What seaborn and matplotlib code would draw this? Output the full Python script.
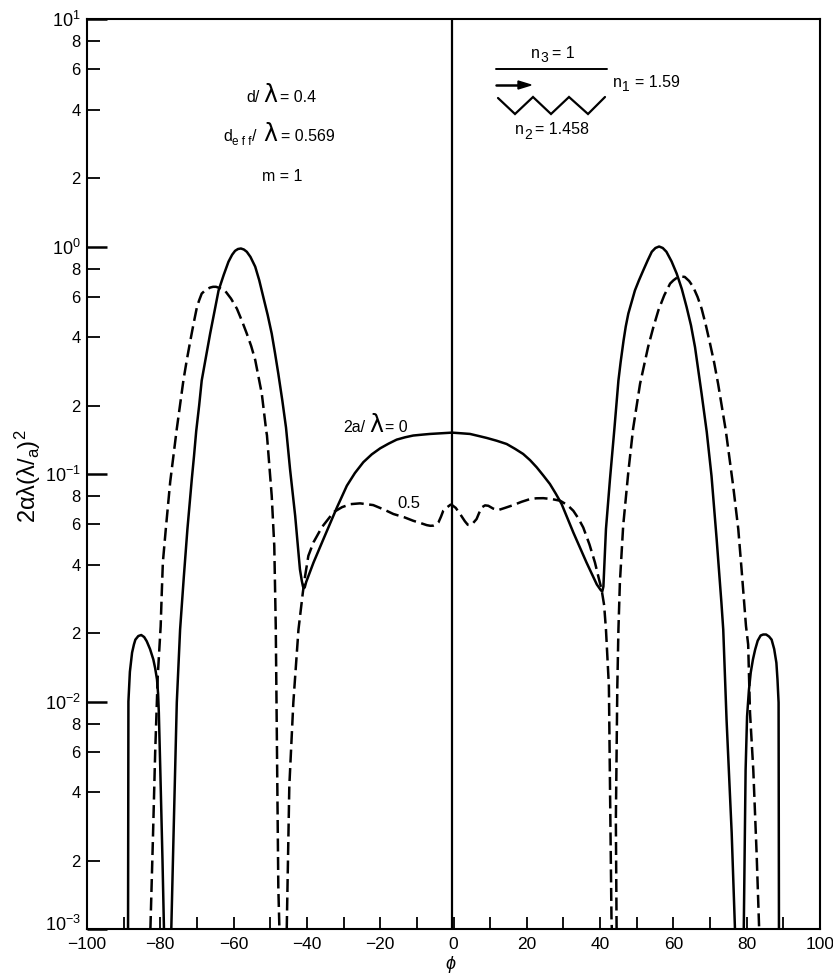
import matplotlib
matplotlib.use("Agg")
import matplotlib.pyplot as plt
from matplotlib.lines import Line2D
from matplotlib.transforms import ScaledTranslation
import seaborn as sns

# ---- data ----
# the drawn centre line of the scan sits slightly left of the axis zero
centre_line_phi = -0.4

solid_left_lobe_x = [-88.4, -88.35, -88.3, -87.9, -87.3, -86.8, -86.4, -85.6, -84.8, -84.0, -83.3, -82.4, -81.5, -81.0,
                     -80.5, -80.2, -80.0, -79.6, -79.0, -78.6]
solid_left_lobe_y = [0.001, 0.003, 0.01, 0.0135, 0.0164, 0.0178, 0.0187, 0.0194, 0.0196, 0.0192, 0.0184, 0.017, 0.0153, 0.014,
                     0.0125, 0.0108, 0.00895, 0.005, 0.002, 0.001]

solid_main_x = [-76.6, -76.0, -75.1, -74.2, -73.2, -72.2, -71.0, -70.4, -69.8, -69.0, -68.3, -67.1, -66.0, -64.8, -63.7, -62.3,
                -61.0, -60.0, -59.2, -58.4, -57.6, -56.8, -56.0, -55.0, -53.7, -52.6, -51.5, -50.3, -49.2, -48.3, -47.4, -46.3,
                -45.3, -44.2, -42.8, -41.5, -41.0, -40.7, -40.5, -40.2, -39.8, -37.8, -35.1, -31.4, -28.7, -26.5, -24.2, -21.9,
                -19.6, -17.3, -15.1, -12.8, -10.6, -8.0, -6.0, -3.0, 0.0, 2.5, 4.9, 7.2, 9.5, 12.2, 14.9, 17.2, 19.4, 21.3,
                23.1, 24.9, 26.7, 28.3, 29.9, 33.1, 36.7, 39.5, 40.5, 40.8, 41.0, 41.3, 42.0, 43.1, 44.3, 45.4, 46.0, 46.8,
                47.4, 48.1, 49.0, 49.9, 51.0, 52.2, 53.4, 54.5, 55.5, 56.5, 57.5, 58.5, 59.9, 61.3, 62.7, 64.0, 65.2, 66.3,
                68.1, 69.5, 70.8, 72.2, 73.5, 74.0, 74.9, 76.3, 77.2]
solid_main_y = [0.001, 0.00254, 0.0099, 0.0207, 0.035, 0.0573, 0.0951, 0.12, 0.1545, 0.2, 0.2576, 0.33, 0.414, 0.52, 0.641, 0.75,
                0.857, 0.92, 0.957, 0.975, 0.98, 0.97, 0.948, 0.90, 0.815, 0.71, 0.60, 0.50, 0.414, 0.34, 0.276, 0.21,
                0.16, 0.105, 0.0655, 0.0381, 0.034, 0.0322, 0.0315, 0.0317, 0.0335, 0.0408, 0.0517, 0.0713, 0.0888, 0.101, 0.1127, 0.122,
                0.1297, 0.136, 0.1416, 0.145, 0.1476, 0.149, 0.15, 0.151, 0.152, 0.151, 0.15, 0.147, 0.144, 0.14, 0.1355, 0.129, 0.1225, 0.115,
                0.107, 0.0985, 0.0904, 0.082, 0.0738, 0.0553, 0.0408, 0.0327, 0.031, 0.0306, 0.0305, 0.032, 0.0573, 0.0951, 0.158, 0.2576, 0.31, 0.386,
                0.445, 0.507, 0.57, 0.641, 0.71, 0.787, 0.87, 0.948, 0.985, 1.0, 0.985, 0.948, 0.86, 0.76, 0.65, 0.542, 0.45, 0.361,
                0.225, 0.153, 0.098, 0.0517, 0.0272, 0.0207, 0.00834, 0.00265, 0.001]

solid_right_lobe_x = [79.6, 80.1, 80.5, 81.0, 81.5, 82.1, 82.7, 83.4, 84.2, 84.9, 85.7, 86.5, 87.2, 87.9, 88.5, 88.8, 89.1, 89.2]
solid_right_lobe_y = [0.001, 0.005, 0.0086, 0.0112, 0.0134, 0.0153, 0.0169, 0.0185, 0.0195, 0.0197, 0.0197, 0.0193, 0.0187, 0.017, 0.0148, 0.0125, 0.0099, 0.001]

dash_left_x = [-82.3, -81.6, -81.0, -80.3, -79.5, -79.2, -78.9, -78.1, -76.9, -75.1, -73.3, -72.4, -71.4, -70.5, -69.6, -69.0,
               -68.3, -67.2, -66.0, -65.2, -64.4, -63.2, -61.9, -60.3, -58.7, -57.3, -56.0, -54.8, -53.7, -51.9, -50.7, -50.5,
               -49.2, -48.5, -48.1, -47.8, -47.4, -47.1]
dash_left_y = [0.001, 0.00254, 0.00596, 0.0129, 0.0214, 0.03, 0.0409, 0.0573, 0.0923, 0.158, 0.2576, 0.315, 0.386, 0.46, 0.542, 0.58,
               0.621, 0.645, 0.66, 0.665, 0.665, 0.655, 0.638, 0.59, 0.533, 0.47, 0.414, 0.365, 0.317, 0.225, 0.155, 0.148,
               0.0802, 0.0483, 0.0215, 0.00703, 0.00153, 0.001]

dash_mid_x = [-45.1, -44.4, -43.3, -41.9, -40.7, -40.1, -39.2, -37.8, -35.5, -32.3, -30.0, -27.7, -25.1, -21.5, -18.5, -16.0,
              -13.0, -10.6, -8.5, -6.9, -5.9, -5.1, -4.3, -3.7, -3.0, -2.4, -1.3, -0.4, 0.0, 1.0, 2.2, 3.5, 4.3, 4.9, 5.8, 6.7,
              7.4, 8.1, 9.0, 9.9, 11.2, 12.6, 14.5, 16.7, 19.0, 21.3, 23.0, 24.9, 27.2, 29.5, 31.5, 33.1, 34.5, 35.8, 37.5, 39.0,
              40.0, 40.8, 41.5, 42.0, 42.8, 43.1, 43.5, 43.6]
dash_mid_y = [0.001, 0.00424, 0.0099, 0.0207, 0.0302, 0.0355, 0.0437, 0.0501, 0.0584, 0.068, 0.0715, 0.0737, 0.0743, 0.073, 0.0697, 0.0667,
              0.0645, 0.0623, 0.0608, 0.0596, 0.0592, 0.0593, 0.06, 0.0613, 0.065, 0.0689, 0.0715, 0.0733, 0.073, 0.071, 0.0667, 0.062, 0.0598, 0.0596, 0.061, 0.0634,
              0.0675, 0.0713, 0.0728, 0.0725, 0.0705, 0.0694, 0.071, 0.073, 0.0755, 0.0776, 0.0782, 0.0783, 0.0776, 0.0763, 0.073, 0.0689, 0.0637, 0.0582, 0.049, 0.0408,
              0.035, 0.0311, 0.0265, 0.0207, 0.0117, 0.00424, 0.00113, 0.001]

dash_right_x = [44.9, 44.7, 45.1, 45.4, 45.8, 46.7, 48.1, 49.4, 51.3, 53.5, 54.9, 56.3, 57.9, 59.5, 60.4, 61.4, 62.4, 63.5, 64.7, 65.8,
                67.0, 68.1, 69.2, 70.4, 71.5, 72.6, 74.7, 76.7, 78.1, 79.0, 80.2, 80.8, 81.3, 82.2, 83.1, 83.8]
dash_right_y = [0.001, 0.003, 0.0117, 0.0207, 0.0334, 0.0593, 0.102, 0.158, 0.249, 0.362, 0.44, 0.524, 0.61, 0.687, 0.71, 0.73, 0.738, 0.735, 0.705, 0.664,
                0.60, 0.533, 0.455, 0.374, 0.31, 0.249, 0.155, 0.0888, 0.0573, 0.0381, 0.0215, 0.0178, 0.00895, 0.005, 0.00216, 0.001]

x_major = [-100, -80, -60, -40, -20, 0, 20, 40, 60, 80, 100]
x_minor = [-90, -70, -50, -30, -10, 10, 30, 50, 70, 90]
x_labels = ["\u2212100", "\u221280", "\u221260", "\u221240", "\u221220", "0", "20", "40", "60", "80", "100"]
y_major = [1e-3, 1e-2, 1e-1, 1e0, 1e1]
y_major_labels = [r"$10^{-3}$", r"$10^{-2}$", r"$10^{-1}$", r"$10^{0}$", r"$10^{1}$"]
y_minor_mant = [2, 4, 6, 8]
y_decades = [1e-3, 1e-2, 1e-1, 1e0]

W, H = 833, 976
sns.set_theme(style="ticks")
plt.rcParams["font.family"] = ["Liberation Sans", "DejaVu Sans"]
plt.rcParams["mathtext.fontset"] = "custom"
plt.rcParams["mathtext.rm"] = "Liberation Sans"
plt.rcParams["mathtext.it"] = "Liberation Sans:italic"
plt.rcParams["mathtext.bf"] = "Liberation Sans:bold"
plt.rcParams["mathtext.default"] = "regular"
plt.rcParams["text.color"] = "black"
plt.rcParams["xtick.color"] = "black"
plt.rcParams["ytick.color"] = "black"

fig = plt.figure(figsize=(W / 100, H / 100), dpi=100, facecolor="white")
ax = fig.add_axes([87 / W, 1 - 929 / H, (820 - 87) / W, (929 - 19) / H])
ax.set_yscale("log")

LW = 1.8
dash_style = (0, (5.2, 2.2))
def shifted(xs):
    return [v + centre_line_phi for v in xs]

for xs, ys in [(solid_left_lobe_x, solid_left_lobe_y), (solid_main_x, solid_main_y),
               (solid_right_lobe_x, solid_right_lobe_y)]:
    sns.lineplot(x=shifted(xs), y=ys, sort=False, estimator=None, errorbar=None, color="black",
                 linewidth=LW, ax=ax)
for xs, ys in [(dash_left_x, dash_left_y), (dash_mid_x, dash_mid_y), (dash_right_x, dash_right_y)]:
    sns.lineplot(x=shifted(xs), y=ys, sort=False, estimator=None, errorbar=None, color="black",
                 linewidth=LW, linestyle=dash_style, ax=ax)

ax.axvline(centre_line_phi, color="black", lw=1.6)
ax.set_xlim(-100, 100)
ax.set_ylim(1e-3, 1e1)

ax.set_xticks(x_major, x_labels)
ax.set_xticks(x_minor, minor=True)
y_minor = [m * d for d in y_decades for m in y_minor_mant]
ax.set_yticks(y_major, y_major_labels)
ax.set_yticks(y_minor, [str(m) for d in y_decades for m in y_minor_mant], minor=True)

ax.tick_params(axis="x", which="both", direction="in", length=9, width=1.3, labelsize=12.5, pad=6, top=False)
ax.tick_params(axis="y", which="major", direction="in", length=14.5, width=1.8, labelsize=13, pad=4.5, right=False)
ax.tick_params(axis="y", which="minor", direction="in", length=9.5, width=1.3, labelsize=12, pad=4.5, right=False)
for s in ax.spines.values():
    s.set_visible(True)
    s.set_linewidth(1.5)
    s.set_color("black")

# the bottom decade label sits a little above its tick, as in the reference
bottom_label = ax.get_yticklabels()[0]
bottom_label.set_transform(bottom_label.get_transform() + ScaledTranslation(0, 6 / 100, fig.dpi_scale_trans))

def px(x, y, s, size=11.5, **kw):
    return fig.text(x / W, 1 - y / H, s, fontsize=size, va="baseline", ha="left", color="black", **kw)

LAM = dict(size=17, family="DejaVu Sans")

# axis labels
fig.text(451 / W, 1 - 969 / H, r"$\mathit{\phi}$", fontsize=13, ha="center", va="baseline")
fig.text(28 / W, 1 - 476 / H, r"$2\alpha\lambda(\lambda/_{a})^{2}$", fontsize=17, rotation=90,
         ha="center", va="center")

# left annotation block
px(246, 102, "d/")
px(263, 102, "\u03bb", **LAM)
px(280, 102, "= 0.4")
px(223, 141, "d")
px(232, 145, "e f f", size=8.5)
px(252, 141, "/")
px(263, 141, "\u03bb", **LAM)
px(281, 141, "= 0.569")
px(262, 181, "m = 1")

# waveguide inset
to_fig = fig.transFigure
def seg(xs, ys, lw=1.4):
    fig.add_artist(Line2D([v / W for v in xs], [1 - v / H for v in ys], color="black", lw=lw,
                          transform=to_fig, solid_joinstyle="miter"))
seg([496, 607], [69, 69])
seg([496, 522], [85, 85], lw=1.8)
fig.add_artist(plt.Polygon([(518 / W, 1 - 81 / H), (531 / W, 1 - 85 / H), (518 / W, 1 - 89 / H)],
                           closed=True, color="black", transform=to_fig))
seg([498, 515, 533, 551, 569, 588, 605], [98, 114, 97, 114, 97, 114, 97], lw=1.6)
px(531, 58, "n")
px(540, 62, "3", size=10)
px(552, 58, "= 1")
px(613, 87, "n")
px(622, 91, "1", size=10)
px(635, 87, "= 1.59")
px(515, 134, "n")
px(524, 139, "2", size=10)
px(535, 134, "= 1.458")

# curve labels
px(343, 432, "2a/")
px(369, 432, "\u03bb", **LAM)
px(385, 432, "= 0")
px(397, 508, "0.5", size=12)

fig.savefig("out.png", dpi=100, facecolor="white")
